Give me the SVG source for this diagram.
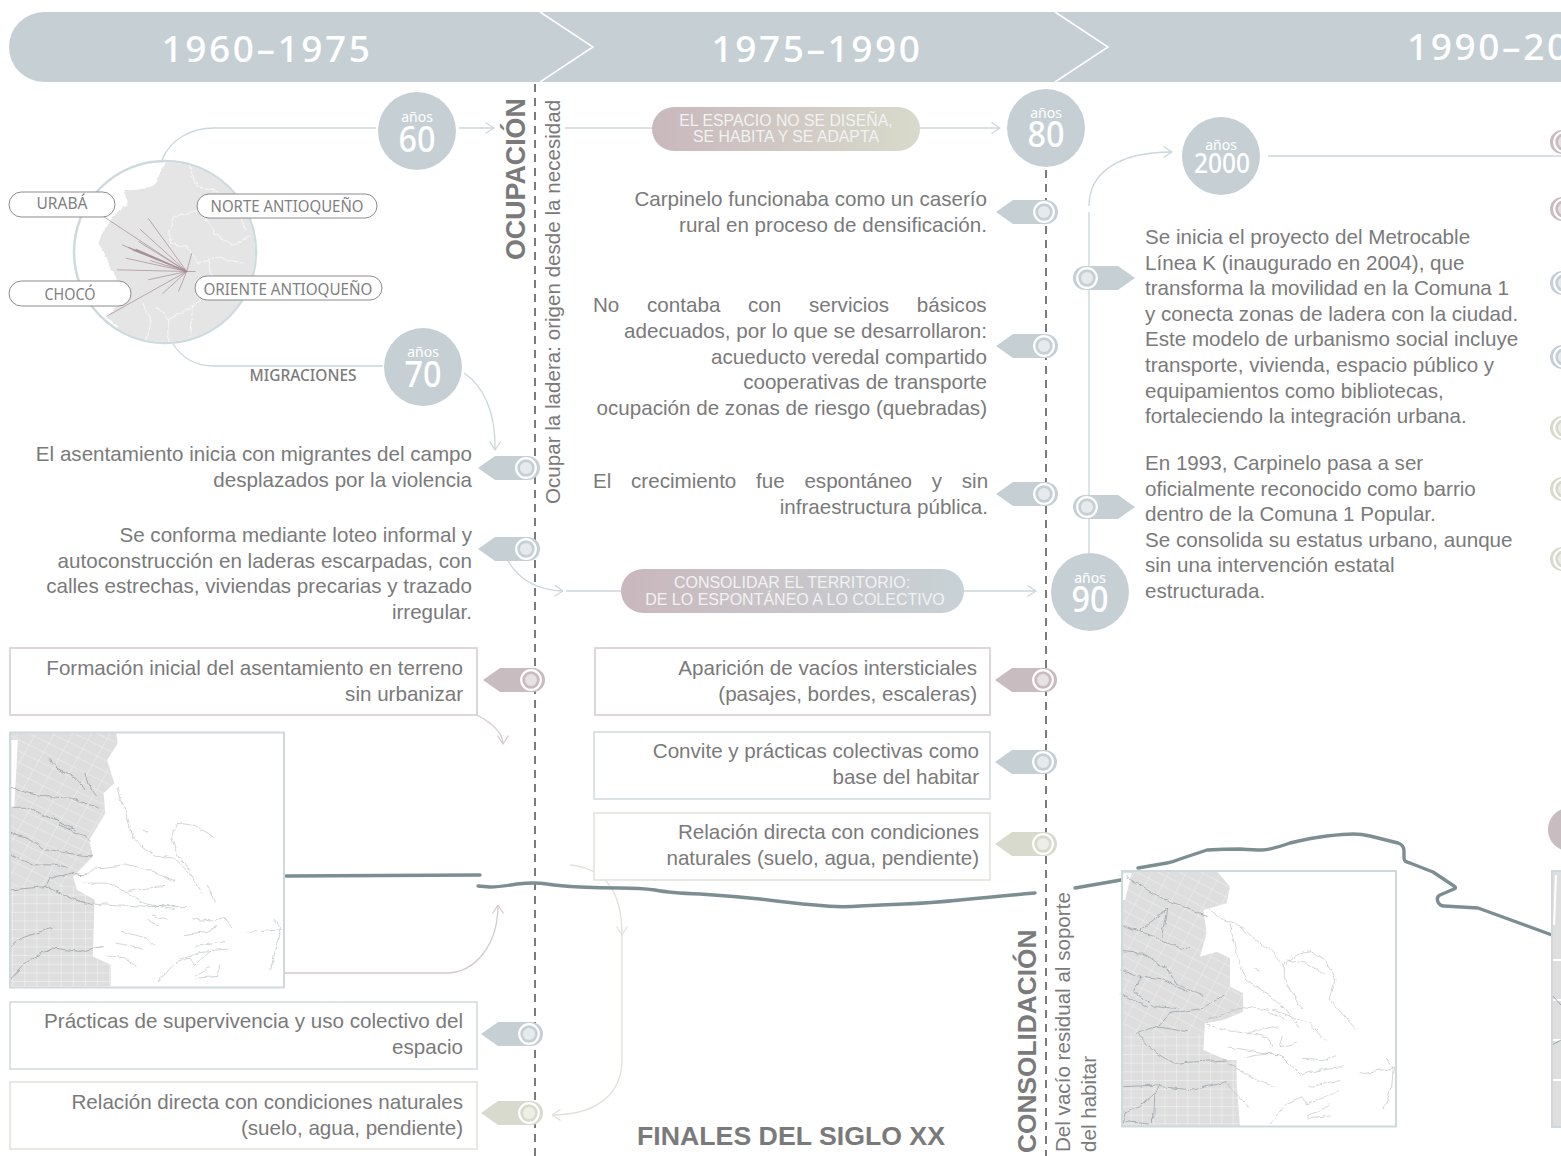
<svg xmlns="http://www.w3.org/2000/svg" width="1561" height="1156" viewBox="0 0 1561 1156">
<style>
text{font-family:"Liberation Sans",Arial,sans-serif;fill:#7a7a7a}
.t{font-size:20.6px;text-anchor:end}
.l{font-size:20.6px}
.v{font-size:20.6px}
.vb{font-size:26.8px;font-weight:bold}
.yr{font-family:"Noto Sans",sans-serif;font-weight:500;font-size:37px;letter-spacing:2.6px;fill:#fff;text-anchor:middle}
.an{font-family:"Noto Sans",sans-serif;font-size:14px;fill:#fff;text-anchor:middle}
.no{font-family:"Noto Sans",sans-serif;font-weight:500;font-size:37px;fill:#fff;text-anchor:middle}
.pl{font-family:"Noto Sans",sans-serif;font-size:17px;fill:#808080;text-anchor:middle}
.pt{font-size:16px;fill:#f2f2f2;text-anchor:middle}
.dash{fill:none;stroke:#7b7b7b;stroke-width:2;stroke-dasharray:8 6}
.cb{fill:none;stroke:#cbd6da;stroke-width:1.3}
.cm{fill:none;stroke:#d5c9cd;stroke-width:1.3}
.cs{fill:none;stroke:#e0e1d8;stroke-width:1.3}
.thick{fill:none;stroke:#7d8e93;stroke-width:3.4;stroke-linejoin:round;stroke-linecap:round}
.pill{fill:#fff;stroke:#8b8b8b;stroke-width:1}
.bm{fill:#fff;stroke:#d8d1d4;stroke-width:1.7}
.bb{fill:#fff;stroke:#d8dfe1;stroke-width:1.7}
.bs{fill:#fff;stroke:#e4e5dd;stroke-width:1.7}
.c{fill:#c6d0d4}
.blue{fill:#c6d0d4}.mauve{fill:#c9bcc1}.sage{fill:#d8dacd}
.rd{fill:none;stroke:#8a959b;stroke-width:2;stroke-linejoin:round}
.rl{fill:none;stroke:#aab2b6;stroke-width:1.6;stroke-linejoin:round}
.frame{fill:none;stroke:#cfd9dc;stroke-width:2}
.mig{fill:none;stroke:#9c7f86;stroke-width:1.8}
.st{fill:none;stroke:#fff;stroke-width:2}
</style>
<defs>
<filter id="wob" x="-5%" y="-5%" width="110%" height="110%"><feTurbulence type="fractalNoise" baseFrequency=".035" numOctaves="3" seed="4"/><feDisplacementMap in="SourceGraphic" scale="16" xChannelSelector="R" yChannelSelector="G"/></filter>
<marker id="ab" viewBox="0 0 10 12" refX="9.5" refY="6" markerWidth="10" markerHeight="12" orient="auto" markerUnits="userSpaceOnUse"><path d="M1,.5 L9.5,6 L1,11.500" fill="none" stroke="#cbd6da" stroke-width="1.2"/></marker>
<marker id="am" viewBox="0 0 10 12" refX="9.5" refY="6" markerWidth="10" markerHeight="12" orient="auto" markerUnits="userSpaceOnUse"><path d="M1,.5 L9.5,6 L1,11.500" fill="none" stroke="#d5c9cd" stroke-width="1.2"/></marker>
<marker id="as" viewBox="0 0 10 12" refX="9.5" refY="6" markerWidth="10" markerHeight="12" orient="auto" markerUnits="userSpaceOnUse"><path d="M1,.5 L9.5,6 L1,11.500" fill="none" stroke="#e0e1d8" stroke-width="1.2"/></marker>
<g id="tagL"><path d="M-48,0 L-31,-12 H2 A12,12 0 0 1 2,12 H-31 Z"/><circle r="9.800" fill="none" stroke="#fff" stroke-width="2.2"/><circle r="6" fill="#fff" opacity=".55"/></g>
<g id="tagR"><path d="M48,0 L31,-12 H-2 A12,12 0 0 0 -2,12 H31 Z"/><circle r="9.800" fill="none" stroke="#fff" stroke-width="2.2"/><circle r="6" fill="#fff" opacity=".55"/></g>
<linearGradient id="g1" x1="0" x2="1" y1="0" y2="0"><stop offset="0" stop-color="#c9b8bd"/><stop offset="1" stop-color="#d8dacb"/></linearGradient>
<linearGradient id="g2" x1="0" x2="1" y1="0" y2="0"><stop offset="0" stop-color="#c9b8bd"/><stop offset="1" stop-color="#c8d2d6"/></linearGradient>
<pattern id="grid" width="34" height="26" patternUnits="userSpaceOnUse"><path d="M0,0H34M0,0V26" fill="none" stroke="#fff" stroke-width="2.4"/></pattern>
<pattern id="gridR" width="46" height="30" patternUnits="userSpaceOnUse" patternTransform="rotate(28)"><path d="M0,0H46M0,0V30" fill="none" stroke="#fff" stroke-width="2.2"/></pattern>
<clipPath id="cc"><circle cx="165" cy="252" r="90"/></clipPath>
<clipPath id="m1"><path d="M27,7H325L330,40L300,90L320,160L290,190L295,250L250,330L260,380L205,440L215,480L265,510L260,680L310,705L310,770H27Z"/></clipPath>
<clipPath id="m2"><path d="M245,152H530L570,200L560,250L490,270L500,340L480,410L530,395L570,415L570,500L610,520L610,575L550,600L495,610L490,690L560,720L590,720L590,790L600,918H245Z"/></clipPath>
</defs>
<rect width="1561" height="1156" fill="#fff"/>

<g id="banner">
<path d="M44,12H1561V82H44A35,35 0 0 1 44,12Z" class="c"/>
<path d="M540,12L593,47L540,82M1055,12L1108,47L1055,82" fill="none" stroke="#fff" stroke-width="1.5"/>
<text class="yr" x="267" y="62">1960–1975</text>
<text class="yr" x="817" y="62">1975–1990</text>
<text class="yr" x="1407" y="60" style="text-anchor:start">1990–20</text>
</g>

<g id="axes">
<path class="dash" d="M535,84V1156"/>
<path class="dash" d="M1046,170V1156"/>
</g>

<g id="connectors">
<path class="cb" d="M162,160C170,140 190,128 214,128H376"/>
<path class="cb" d="M459,128H494" marker-end="url(#ab)"/>
<path class="cb" d="M173,344C182,358 195,366 214,366H383"/>
<path class="cb" d="M464,373C482,385 496,410 495,450" marker-end="url(#ab)"/>
<path class="cb" d="M565,128H652"/>
<path class="cb" d="M920,128H1000" marker-end="url(#ab)"/>
<path class="cb" d="M1089,206C1089,175 1115,152 1172,152" marker-end="url(#ab)"/>
<path class="cb" d="M1089,212V553"/>
<path class="cb" d="M1268,156H1561"/>
<path class="cb" d="M508,561C518,578 535,590 563,591" marker-end="url(#ab)"/>
<path class="cb" d="M566,591H621"/>
<path class="cb" d="M964,591H1036" marker-end="url(#ab)"/>
<path class="cm" d="M477,715C490,722 503,732 503,744" marker-end="url(#am)"/>
<path class="cm" d="M285,973H446C475,973 498,945 498,905" marker-end="url(#am)"/>
<path class="cs" d="M570,865C600,868 622,885 622,935" marker-end="url(#as)"/>
<path class="cs" d="M622,935V1060C622,1095 595,1115 552,1115" marker-end="url(#as)"/>
<path class="thick" d="M286,876L480,875"/>
<path class="thick" d="M478,886L490,887Q500,887 517,884Q535,882 547,884Q560,886 580,887Q600,888 620,888Q640,888 655,890Q670,893 700,894Q730,896 760,899Q790,903 815,905Q840,908 860,906Q880,905 905,904Q930,903 960,900Q990,897 1035,893"/>
<path class="thick" d="M1075,888L1121,880"/>
<path class="thick" d="M1138,868L1167,863Q1173,862 1180,859L1207,850Q1225,849 1240,849Q1255,850 1262,850Q1270,850 1290,843Q1310,838 1327,836Q1345,834 1353,834Q1362,834 1370,836L1398,843Q1404,845 1404,851V858Q1404,862 1410,863L1433,872L1454,886Q1457,888 1454,889L1440,895Q1436,897 1438,902Q1440,906 1444,906L1478,908L1552,935"/>
</g>

<g id="circle-map">
<circle cx="165" cy="252" r="91" fill="#fff" stroke="#cfdadd" stroke-width="2.5"/>
<g clip-path="url(#cc)"><g transform="translate(0,90) scale(.357,.333)" filter="url(#wob)">
<path d="M470,205L430,290L350,300L355,340L300,400L275,460L300,510L320,560L360,610L300,680L340,730L470,775L610,740L720,610L735,490L700,350L650,280L580,215Z" fill="#e5e5e5"/>
<path class="st" d="M530,225L550,290L600,300L560,360L490,380L470,430L480,460M600,300L660,350L690,420M560,360L600,430L650,470L700,440M480,460L520,470L560,520L600,500L680,520M580,500L600,600L540,650L470,690L440,650M600,600L700,590M540,650L530,740M470,690L470,770M400,640L420,690L410,750"/>
</g></g>
</g>
<g id="migrations"><g transform="translate(0,90) scale(.357,.333)">
<path class="mig" d="M523,545L290,380M523,545L415,385M523,545L392,418M523,545L342,465M523,545L388,455M523,545L352,505M523,545L328,540M523,545L415,570M523,545L537,490M523,545L548,545M523,545L455,612M523,545L500,605M523,545L298,680M523,545L420,512"/>
<path d="M523,545L360,473M523,545L380,478M523,545L400,490M523,545L372,480" fill="none" stroke="#a88e95" stroke-width="3.5"/>
</g></g>

<g id="urab"><rect class="pill" x="9" y="192" width="106" height="25" rx="12.5"/><text class="pl" x="62" y="209" textLength="51" lengthAdjust="spacingAndGlyphs">URABÁ</text></g>
<g id="norte"><rect class="pill" x="197" y="194" width="180" height="24" rx="12"/><text class="pl" x="287" y="212" textLength="153" lengthAdjust="spacingAndGlyphs">NORTE ANTIOQUEÑO</text></g>
<g id="choco"><rect class="pill" x="9" y="281" width="122" height="25" rx="12.5"/><text class="pl" x="70" y="300" textLength="51" lengthAdjust="spacingAndGlyphs">CHOCÓ</text></g>
<g id="oriente"><rect class="pill" x="195" y="276" width="187" height="24" rx="12"/><text class="pl" x="288" y="295" textLength="169" lengthAdjust="spacingAndGlyphs">ORIENTE ANTIOQUEÑO</text></g>
<g id="migraciones"><text x="303" y="381" textLength="107" lengthAdjust="spacingAndGlyphs" style="font-family:'Noto Sans',sans-serif;font-size:15.5px;font-weight:500;text-anchor:middle">MIGRACIONES</text></g>

<g id="y60"><circle class="c" cx="417" cy="131" r="39"/><text class="an" x="417" y="122">años</text><text class="no" x="417" y="152" textLength="37" lengthAdjust="spacingAndGlyphs">60</text></g>
<g id="y70"><circle class="c" cx="423" cy="367" r="39"/><text class="an" x="423" y="357">años</text><text class="no" x="423" y="387" textLength="37" lengthAdjust="spacingAndGlyphs">70</text></g>
<g id="y80"><circle class="c" cx="1046" cy="128" r="39"/><text class="an" x="1046" y="118">años</text><text class="no" x="1046" y="147" textLength="37" lengthAdjust="spacingAndGlyphs">80</text></g>
<g id="y2000"><circle class="c" cx="1221" cy="156" r="39"/><text class="an" x="1221" y="150">años</text><text class="no" x="1222" y="173" textLength="56" lengthAdjust="spacingAndGlyphs" style="font-size:27px">2000</text></g>
<g id="y90"><circle class="c" cx="1090" cy="592" r="39"/><text class="an" x="1090" y="583">años</text><text class="no" x="1090" y="612" textLength="37" lengthAdjust="spacingAndGlyphs">90</text></g>

<g id="etapa1"><text class="vb" transform="translate(525,260) rotate(-90)">OCUPACIÓN</text><text class="v" transform="translate(560,504) rotate(-90)">Ocupar la ladera: origen desde la necesidad</text></g>
<g id="etapa2"><text class="vb" style="font-size:26.3px" transform="translate(1036,1153) rotate(-90)">CONSOLIDACIÓN</text><text class="v" transform="translate(1070,1152) rotate(-90)">Del vacío residual al soporte</text><text class="v" transform="translate(1096,1152) rotate(-90)">del habitar</text></g>

<g id="pill-espacio"><rect x="652" y="107" width="268" height="44" rx="22" fill="url(#g1)"/><text class="pt" x="786" y="126" style="font-size:15.8px">EL ESPACIO NO SE DISEÑA,</text><text class="pt" x="786" y="142" style="font-size:15.8px">SE HABITA Y SE ADAPTA</text></g>
<g id="pill-consolidar"><rect x="621" y="569" width="343" height="44" rx="22" fill="url(#g2)"/><text class="pt" x="792" y="588">CONSOLIDAR EL TERRITORIO:</text><text class="pt" x="795" y="605">DE LO ESPONTÁNEO A LO COLECTIVO</text></g>

<g id="n1"><text class="t" x="472" y="461">El asentamiento inicia con migrantes del campo</text><text class="t" x="472" y="487">desplazados por la violencia</text><use href="#tagL" x="526" y="468" class="blue"/></g>
<g id="n2"><text class="t" x="472" y="542">Se conforma mediante loteo informal y</text><text class="t" x="472" y="568">autoconstrucción en laderas escarpadas, con</text><text class="t" x="472" y="593">calles estrechas, viviendas precarias y trazado</text><text class="t" x="472" y="619">irregular.</text><use href="#tagL" x="526" y="549" class="blue"/></g>
<g id="n3"><rect class="bm" x="10" y="648" width="467" height="67"/><text class="t" x="463" y="675">Formación inicial del asentamiento en terreno</text><text class="t" x="463" y="701">sin urbanizar</text><use href="#tagL" x="531" y="680" class="mauve"/></g>
<g id="n4"><rect class="bb" x="10" y="1002" width="467" height="67"/><text class="t" x="463" y="1028">Prácticas de supervivencia y uso colectivo del</text><text class="t" x="463" y="1054">espacio</text><use href="#tagL" x="529" y="1034" class="blue"/></g>
<g id="n5"><rect class="bs" x="10" y="1082" width="467" height="67"/><text class="t" x="463" y="1109">Relación directa con condiciones naturales</text><text class="t" x="463" y="1135">(suelo, agua, pendiente)</text><use href="#tagL" x="529" y="1113" class="sage"/></g>

<g id="n6"><text class="t" x="987" y="206">Carpinelo funcionaba como un caserío</text><text class="t" x="987" y="232">rural en proceso de densificación.</text><use href="#tagL" x="1044" y="212" class="blue"/></g>
<g id="n7"><text class="l" x="593" y="312" word-spacing="22">No contaba con servicios básicos</text><text class="t" x="987" y="338">adecuados, por lo que se desarrollaron:</text><text class="t" x="987" y="364">acueducto veredal compartido</text><text class="t" x="987" y="389">cooperativas de transporte</text><text class="t" x="987" y="415">ocupación de zonas de riesgo (quebradas)</text><use href="#tagL" x="1044" y="346" class="blue"/></g>
<g id="n8"><text class="l" x="593" y="488" word-spacing="14">El crecimiento fue espontáneo y sin</text><text class="t" x="988" y="514">infraestructura pública.</text><use href="#tagL" x="1044" y="494" class="blue"/></g>
<g id="n9"><rect class="bm" x="595" y="648" width="395" height="67"/><text class="t" x="977" y="675">Aparición de vacíos intersticiales</text><text class="t" x="977" y="701">(pasajes, bordes, escaleras)</text><use href="#tagL" x="1043" y="680" class="mauve"/></g>
<g id="n10"><rect class="bb" x="594" y="732" width="396" height="67"/><text class="t" x="979" y="758">Convite y prácticas colectivas como</text><text class="t" x="979" y="784">base del habitar</text><use href="#tagL" x="1043" y="762" class="blue"/></g>
<g id="n11"><rect class="bs" x="594" y="813" width="396" height="67"/><text class="t" x="979" y="839">Relación directa con condiciones</text><text class="t" x="979" y="865">naturales (suelo, agua, pendiente)</text><use href="#tagL" x="1043" y="844" class="sage"/></g>
<g id="finales"><text x="791" y="1145" style="font-size:26.7px;font-weight:bold;text-anchor:middle">FINALES DEL SIGLO XX</text></g>

<g id="n12"><use href="#tagR" x="1087" y="278" class="blue"/><text class="l" x="1145" y="244">Se inicia el proyecto del Metrocable</text><text class="l" x="1145" y="270">Línea K (inaugurado en 2004), que</text><text class="l" x="1145" y="295">transforma la movilidad en la Comuna 1</text><text class="l" x="1145" y="321">y conecta zonas de ladera con la ciudad.</text><text class="l" x="1145" y="346">Este modelo de urbanismo social incluye</text><text class="l" x="1145" y="372">transporte, vivienda, espacio público y</text><text class="l" x="1145" y="398">equipamientos como bibliotecas,</text><text class="l" x="1145" y="423">fortaleciendo la integración urbana.</text></g>
<g id="n13"><use href="#tagR" x="1087" y="507" class="blue"/><text class="l" x="1145" y="470">En 1993, Carpinelo pasa a ser</text><text class="l" x="1145" y="496">oficialmente reconocido como barrio</text><text class="l" x="1145" y="521">dentro de la Comuna 1 Popular.</text><text class="l" x="1145" y="547">Se consolida su estatus urbano, aunque</text><text class="l" x="1145" y="572">sin una intervención estatal</text><text class="l" x="1145" y="598">estructurada.</text></g>

<g id="right-tags">
<use href="#tagR" x="1564" y="142" class="mauve"/><use href="#tagR" x="1564" y="209" class="mauve"/><use href="#tagR" x="1564" y="283" class="blue"/><use href="#tagR" x="1564" y="357" class="blue"/><use href="#tagR" x="1564" y="428" class="sage"/><use href="#tagR" x="1564" y="489" class="sage"/><use href="#tagR" x="1564" y="559" class="sage"/>
<rect x="1548" y="808" width="60" height="43" rx="21" class="mauve"/>
</g>

<g id="map1"><rect x="10" y="732.500" width="274" height="255" fill="#fff"/>
<g transform="translate(0,730) scale(.357,.333)">
<g clip-path="url(#m1)"><g filter="url(#wob)"><rect x="17" y="-3" width="340" height="785" fill="#dedede"/></g><rect x="27" y="470" width="320" height="302" fill="url(#grid)" opacity=".85"/><rect x="27" y="7" width="320" height="463" fill="url(#gridR)" opacity=".7"/><path d="M32,30L50,30L40,230L32,230Z" fill="#fff"/></g>
<g filter="url(#wob)">
<path class="rd" d="M140,85L160,115L205,140L240,180M240,125L250,165L270,195M30,175L80,190L130,200L200,205L280,235M30,235L80,235L110,250L180,285L215,300M150,260L165,285L240,320L255,335M30,310L70,320L120,355L190,370L260,380M30,375L90,405L150,405L190,415M30,480L80,475L130,470L210,510L265,525M130,470L140,445L200,430L235,435M30,650L60,625L130,600L150,595M30,745L60,710L100,680L150,655L220,665L290,650"/>
<path class="rl" d="M330,175L350,240L375,330L430,375L490,385L530,430L565,490M580,465L605,520M495,280L540,285L600,320M495,280L480,320L495,370L530,420M400,298L418,304M235,435L270,415L350,405L430,425L490,455M235,460L300,460L360,490L400,520L490,540M360,485L410,475L465,470M260,520L330,525L420,530L520,530M425,555L470,568M410,570L450,590M540,567L600,575L625,560L650,595M515,615L580,605L610,590M340,605L410,625L435,650M325,640L375,650L400,660M300,675L350,685L385,710M550,650L630,635M500,690L560,665L640,658M440,760L490,700L530,685L545,710L590,660M545,740L590,710M550,745L610,740L612,705M690,608L790,600M765,565L790,600L775,650L758,720"/>
</g></g><rect class="frame" x="10" y="732.500" width="274" height="255"/></g>

<g id="map2"><rect x="1122" y="871" width="274" height="255.500" fill="#fff"/>
<g transform="translate(1040,820) scale(.3333)">
<g clip-path="url(#m2)"><g filter="url(#wob)"><rect x="235" y="142" width="390" height="786" fill="#dedede"/></g><rect x="245" y="640" width="370" height="278" fill="url(#grid)" opacity=".85"/><rect x="245" y="152" width="370" height="488" fill="url(#gridR)" opacity=".7"/><path d="M250,160L275,160L255,240L248,240Z" fill="#fff"/></g>
<g filter="url(#wob)">
<path class="rd" d="M260,170L350,225L440,265L500,290M245,315L330,345L420,385L450,380M300,330L380,270M365,350L380,270M245,395L310,400L385,450L410,490L490,530M245,450L290,470L370,480L440,515M300,470L280,515L345,560L410,565M245,520L290,545L320,565M355,620L390,580L490,565L560,525M290,640L350,620L440,635M290,640L350,700L400,730L480,725L560,720M250,800L360,795L350,815L300,860L255,880L250,910M360,800L460,810L560,785M255,905L330,912M345,815L340,910"/>
<path class="rl" d="M510,270L550,300L590,310L660,370L690,385L730,435M570,310L590,410L620,480L680,520L740,570L780,630M730,435L770,405L810,395L860,425L885,480L870,540L950,630M740,420L800,430L855,465M730,435L730,470L785,570M640,445L660,450M495,610L550,630L620,640L700,620L715,625M500,600L610,560L680,570L740,600M700,570L810,610L860,665M620,640L680,650L700,680M730,650L720,680L770,670M560,680L620,690L715,705M610,715L670,700L720,705L780,765L860,745L910,740M790,715L860,720L890,705M955,760L1060,745L1035,710M1060,745L1055,800L1030,870M560,730L630,770L700,800M805,800L900,785M690,910L740,850L790,830L800,855L900,810M800,890L860,860L870,850M800,895L875,885M560,790L625,860"/>
</g></g><rect class="frame" x="1122" y="871" width="274" height="255.500"/></g>

<g id="map3"><rect x="1552" y="871" width="20" height="256" fill="#dedede"/><path d="M1556,875L1554,925M1552,960H1561M1552,1000H1561M1552,1040H1561M1552,1080H1561" fill="none" stroke="#fff" stroke-width="2"/><path class="rd" style="stroke-width:.8" d="M1552,995L1561,1005M1552,1045L1561,1040"/><rect class="frame" x="1552" y="871" width="20" height="256"/></g>
</svg>
